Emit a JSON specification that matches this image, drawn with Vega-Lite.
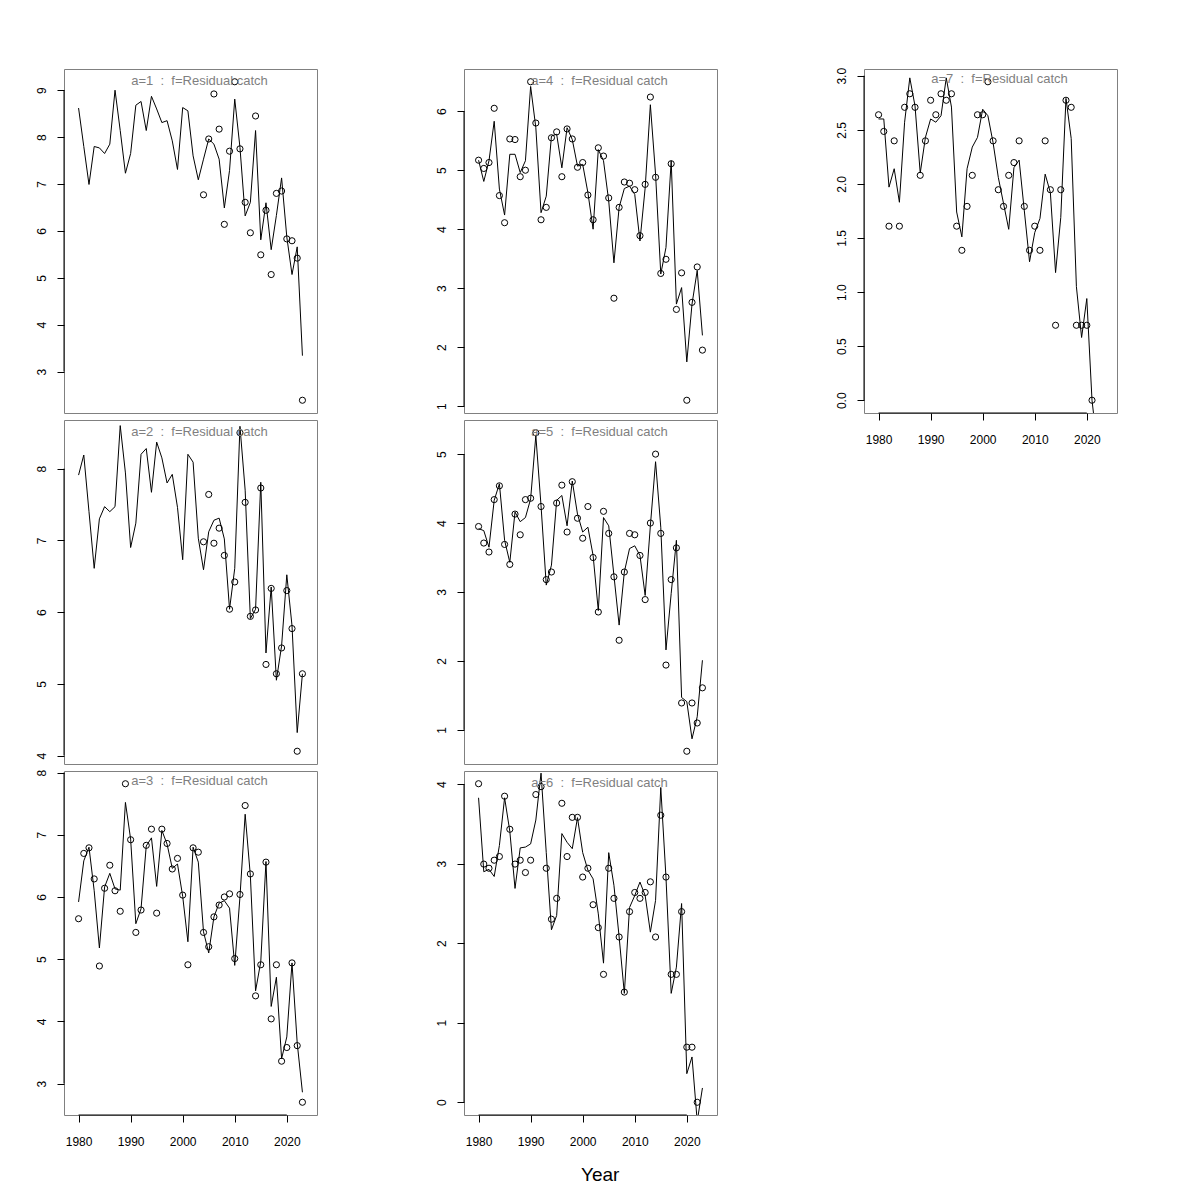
{
"$schema": "https://vega.github.io/schema/vega-lite/v6.json",
"padding": {"left": 34, "top": 66, "right": 10, "bottom": 10},
"datasets": {"d": [
{"a":1,"year":1980,"fit":8.62},{"a":1,"year":1981,"fit":7.80},{"a":1,"year":1982,"fit":6.99},{"a":1,"year":1983,"fit":7.80},{"a":1,"year":1984,"fit":7.77},{"a":1,"year":1985,"fit":7.65},{"a":1,"year":1986,"fit":7.85},{"a":1,"year":1987,"fit":9.00},{"a":1,"year":1988,"fit":8.14},{"a":1,"year":1989,"fit":7.23},
{"a":1,"year":1990,"fit":7.65},{"a":1,"year":1991,"fit":8.68},{"a":1,"year":1992,"fit":8.76},{"a":1,"year":1993,"fit":8.14},{"a":1,"year":1994,"fit":8.87},{"a":1,"year":1995,"fit":8.60},{"a":1,"year":1996,"fit":8.31},{"a":1,"year":1997,"fit":8.35},{"a":1,"year":1998,"fit":7.92},{"a":1,"year":1999,"fit":7.31},
{"a":1,"year":2000,"fit":8.63},{"a":1,"year":2001,"fit":8.56},{"a":1,"year":2002,"fit":7.60},{"a":1,"year":2003,"fit":7.09},{"a":1,"year":2004,"fit":7.53,"obs":6.77},{"a":1,"year":2005,"fit":7.96,"obs":7.96},{"a":1,"year":2006,"fit":7.85,"obs":8.92},{"a":1,"year":2007,"fit":7.53,"obs":8.17},{"a":1,"year":2008,"fit":6.49,"obs":6.14},{"a":1,"year":2009,"fit":7.29,"obs":7.70},
{"a":1,"year":2010,"fit":8.81,"obs":9.18},{"a":1,"year":2011,"fit":7.78,"obs":7.75},{"a":1,"year":2012,"fit":6.32,"obs":6.61},{"a":1,"year":2013,"fit":6.61,"obs":5.96},{"a":1,"year":2014,"fit":8.14,"obs":8.45},{"a":1,"year":2015,"fit":5.81,"obs":5.49},{"a":1,"year":2016,"fit":6.60,"obs":6.44},{"a":1,"year":2017,"fit":5.60,"obs":5.07},{"a":1,"year":2018,"fit":6.33,"obs":6.80},{"a":1,"year":2019,"fit":7.13,"obs":6.85},
{"a":1,"year":2020,"fit":5.87,"obs":5.83},{"a":1,"year":2021,"fit":5.07,"obs":5.79},{"a":1,"year":2022,"fit":5.66,"obs":5.42},{"a":1,"year":2023,"fit":3.34,"obs":2.39},

{"a":2,"year":1980,"fit":7.91},{"a":2,"year":1981,"fit":8.19},{"a":2,"year":1982,"fit":7.40},{"a":2,"year":1983,"fit":6.61},{"a":2,"year":1984,"fit":7.30},{"a":2,"year":1985,"fit":7.47},{"a":2,"year":1986,"fit":7.40},{"a":2,"year":1987,"fit":7.47},{"a":2,"year":1988,"fit":8.60},{"a":2,"year":1989,"fit":7.94},
{"a":2,"year":1990,"fit":6.90},{"a":2,"year":1991,"fit":7.24},{"a":2,"year":1992,"fit":8.20},{"a":2,"year":1993,"fit":8.28},{"a":2,"year":1994,"fit":7.67},{"a":2,"year":1995,"fit":8.37},{"a":2,"year":1996,"fit":8.15},{"a":2,"year":1997,"fit":7.80},{"a":2,"year":1998,"fit":7.92},{"a":2,"year":1999,"fit":7.46},
{"a":2,"year":2000,"fit":6.73},{"a":2,"year":2001,"fit":8.20},{"a":2,"year":2002,"fit":8.09},{"a":2,"year":2003,"fit":7.03},{"a":2,"year":2004,"fit":6.59,"obs":6.98},{"a":2,"year":2005,"fit":7.12,"obs":7.64},{"a":2,"year":2006,"fit":7.28,"obs":6.96},{"a":2,"year":2007,"fit":7.31,"obs":7.17},{"a":2,"year":2008,"fit":7.02,"obs":6.79},{"a":2,"year":2009,"fit":6.04,"obs":6.04},
{"a":2,"year":2010,"fit":6.61,"obs":6.42},{"a":2,"year":2011,"fit":8.59,"obs":8.50},{"a":2,"year":2012,"fit":7.70,"obs":7.53},{"a":2,"year":2013,"fit":5.91,"obs":5.94},{"a":2,"year":2014,"fit":6.04,"obs":6.03},{"a":2,"year":2015,"fit":7.81,"obs":7.73},{"a":2,"year":2016,"fit":5.43,"obs":5.27},{"a":2,"year":2017,"fit":6.35,"obs":6.33},{"a":2,"year":2018,"fit":5.05,"obs":5.14},{"a":2,"year":2019,"fit":5.53,"obs":5.50},
{"a":2,"year":2020,"fit":6.52,"obs":6.30},{"a":2,"year":2021,"fit":5.81,"obs":5.77},{"a":2,"year":2022,"fit":4.32,"obs":4.06},{"a":2,"year":2023,"fit":5.14,"obs":5.14},

{"a":3,"year":1980,"fit":5.92,"obs":5.65},{"a":3,"year":1981,"fit":6.58,"obs":6.70},{"a":3,"year":1982,"fit":6.80,"obs":6.79},{"a":3,"year":1983,"fit":6.10,"obs":6.29},{"a":3,"year":1984,"fit":5.18,"obs":4.89},{"a":3,"year":1985,"fit":6.16,"obs":6.14},{"a":3,"year":1986,"fit":6.38,"obs":6.51},{"a":3,"year":1987,"fit":6.13,"obs":6.10},{"a":3,"year":1988,"fit":6.11,"obs":5.77},{"a":3,"year":1989,"fit":7.52,"obs":7.82},
{"a":3,"year":1990,"fit":6.93,"obs":6.92},{"a":3,"year":1991,"fit":5.57,"obs":5.43},{"a":3,"year":1992,"fit":5.81,"obs":5.79},{"a":3,"year":1993,"fit":6.82,"obs":6.83},{"a":3,"year":1994,"fit":6.95,"obs":7.09},{"a":3,"year":1995,"fit":6.17,"obs":5.74},{"a":3,"year":1996,"fit":7.07,"obs":7.09},{"a":3,"year":1997,"fit":6.85,"obs":6.86},{"a":3,"year":1998,"fit":6.46,"obs":6.45},{"a":3,"year":1999,"fit":6.53,"obs":6.62},
{"a":3,"year":2000,"fit":6.01,"obs":6.03},{"a":3,"year":2001,"fit":5.28,"obs":4.91},{"a":3,"year":2002,"fit":6.80,"obs":6.79},{"a":3,"year":2003,"fit":6.56,"obs":6.72},{"a":3,"year":2004,"fit":5.44,"obs":5.43},{"a":3,"year":2005,"fit":5.10,"obs":5.20},{"a":3,"year":2006,"fit":5.68,"obs":5.68},{"a":3,"year":2007,"fit":5.90,"obs":5.87},{"a":3,"year":2008,"fit":5.94,"obs":6.00},{"a":3,"year":2009,"fit":5.82,"obs":6.05},
{"a":3,"year":2010,"fit":4.90,"obs":5.01},{"a":3,"year":2011,"fit":6.00,"obs":6.04},{"a":3,"year":2012,"fit":7.33,"obs":7.47},{"a":3,"year":2013,"fit":6.34,"obs":6.37},{"a":3,"year":2014,"fit":4.49,"obs":4.41},{"a":3,"year":2015,"fit":4.96,"obs":4.91},{"a":3,"year":2016,"fit":6.57,"obs":6.56},{"a":3,"year":2017,"fit":4.24,"obs":4.04},{"a":3,"year":2018,"fit":4.71,"obs":4.91},{"a":3,"year":2019,"fit":3.40,"obs":3.36},
{"a":3,"year":2020,"fit":3.75,"obs":3.58},{"a":3,"year":2021,"fit":4.94,"obs":4.94},{"a":3,"year":2022,"fit":3.65,"obs":3.61},{"a":3,"year":2023,"fit":2.86,"obs":2.70},

{"a":4,"year":1980,"fit":5.17,"obs":5.17},{"a":4,"year":1981,"fit":4.81,"obs":5.03},{"a":4,"year":1982,"fit":5.16,"obs":5.13},{"a":4,"year":1983,"fit":5.83,"obs":6.05},{"a":4,"year":1984,"fit":4.68,"obs":4.57},{"a":4,"year":1985,"fit":4.24,"obs":4.11},{"a":4,"year":1986,"fit":5.27,"obs":5.53},{"a":4,"year":1987,"fit":5.27,"obs":5.52},{"a":4,"year":1988,"fit":4.96,"obs":4.89},{"a":4,"year":1989,"fit":5.16,"obs":5.00},
{"a":4,"year":1990,"fit":6.42,"obs":6.50},{"a":4,"year":1991,"fit":5.72,"obs":5.80},{"a":4,"year":1992,"fit":4.28,"obs":4.16},{"a":4,"year":1993,"fit":4.56,"obs":4.37},{"a":4,"year":1994,"fit":5.58,"obs":5.55},{"a":4,"year":1995,"fit":5.61,"obs":5.65},{"a":4,"year":1996,"fit":5.04,"obs":4.89},{"a":4,"year":1997,"fit":5.72,"obs":5.70},{"a":4,"year":1998,"fit":5.52,"obs":5.53},{"a":4,"year":1999,"fit":5.07,"obs":5.05},
{"a":4,"year":2000,"fit":5.10,"obs":5.13},{"a":4,"year":2001,"fit":4.62,"obs":4.58},{"a":4,"year":2002,"fit":4.00,"obs":4.16},{"a":4,"year":2003,"fit":5.35,"obs":5.38},{"a":4,"year":2004,"fit":5.16,"obs":5.24},{"a":4,"year":2005,"fit":4.48,"obs":4.53},{"a":4,"year":2006,"fit":3.43,"obs":2.83},{"a":4,"year":2007,"fit":4.37,"obs":4.37},{"a":4,"year":2008,"fit":4.69,"obs":4.80},{"a":4,"year":2009,"fit":4.73,"obs":4.78},
{"a":4,"year":2010,"fit":4.59,"obs":4.67},{"a":4,"year":2011,"fit":3.80,"obs":3.89},{"a":4,"year":2012,"fit":4.70,"obs":4.76},{"a":4,"year":2013,"fit":6.11,"obs":6.24},{"a":4,"year":2014,"fit":4.93,"obs":4.88},{"a":4,"year":2015,"fit":3.24,"obs":3.25},{"a":4,"year":2016,"fit":3.69,"obs":3.49},{"a":4,"year":2017,"fit":5.16,"obs":5.11},{"a":4,"year":2018,"fit":2.73,"obs":2.64},{"a":4,"year":2019,"fit":3.01,"obs":3.26},
{"a":4,"year":2020,"fit":1.75,"obs":1.10},{"a":4,"year":2021,"fit":2.73,"obs":2.76},{"a":4,"year":2022,"fit":3.30,"obs":3.36},{"a":4,"year":2023,"fit":2.20,"obs":1.95},

{"a":5,"year":1980,"fit":3.92,"obs":3.95},{"a":5,"year":1981,"fit":3.89,"obs":3.71},{"a":5,"year":1982,"fit":3.65,"obs":3.58},{"a":5,"year":1983,"fit":4.33,"obs":4.34},{"a":5,"year":1984,"fit":4.57,"obs":4.54},{"a":5,"year":1985,"fit":3.75,"obs":3.69},{"a":5,"year":1986,"fit":3.43,"obs":3.40},{"a":5,"year":1987,"fit":4.16,"obs":4.13},{"a":5,"year":1988,"fit":4.02,"obs":3.83},{"a":5,"year":1989,"fit":4.08,"obs":4.34},
{"a":5,"year":1990,"fit":4.35,"obs":4.36},{"a":5,"year":1991,"fit":5.27,"obs":5.31},{"a":5,"year":1992,"fit":4.25,"obs":4.24},{"a":5,"year":1993,"fit":3.10,"obs":3.18},{"a":5,"year":1994,"fit":3.39,"obs":3.29},{"a":5,"year":1995,"fit":4.33,"obs":4.29},{"a":5,"year":1996,"fit":4.40,"obs":4.55},{"a":5,"year":1997,"fit":3.96,"obs":3.87},{"a":5,"year":1998,"fit":4.61,"obs":4.60},{"a":5,"year":1999,"fit":4.13,"obs":4.07},
{"a":5,"year":2000,"fit":3.87,"obs":3.78},{"a":5,"year":2001,"fit":3.94,"obs":4.24},{"a":5,"year":2002,"fit":3.53,"obs":3.50},{"a":5,"year":2003,"fit":2.73,"obs":2.71},{"a":5,"year":2004,"fit":4.08,"obs":4.17},{"a":5,"year":2005,"fit":3.96,"obs":3.85},{"a":5,"year":2006,"fit":3.24,"obs":3.22},{"a":5,"year":2007,"fit":2.52,"obs":2.30},{"a":5,"year":2008,"fit":3.29,"obs":3.29},{"a":5,"year":2009,"fit":3.63,"obs":3.85},
{"a":5,"year":2010,"fit":3.67,"obs":3.83},{"a":5,"year":2011,"fit":3.53,"obs":3.53},{"a":5,"year":2012,"fit":2.95,"obs":2.89},{"a":5,"year":2013,"fit":3.96,"obs":4.00},{"a":5,"year":2014,"fit":4.89,"obs":5.00},{"a":5,"year":2015,"fit":3.94,"obs":3.85},{"a":5,"year":2016,"fit":2.16,"obs":1.94},{"a":5,"year":2017,"fit":2.98,"obs":3.18},{"a":5,"year":2018,"fit":3.75,"obs":3.64},{"a":5,"year":2019,"fit":1.47,"obs":1.39},
{"a":5,"year":2020,"fit":1.41,"obs":0.69},{"a":5,"year":2021,"fit":0.87,"obs":1.39},{"a":5,"year":2022,"fit":1.19,"obs":1.10},{"a":5,"year":2023,"fit":2.01,"obs":1.61},

{"a":6,"year":1980,"fit":3.83,"obs":4.007},{"a":6,"year":1981,"fit":2.90,"obs":2.996},{"a":6,"year":1982,"fit":2.93,"obs":2.944},{"a":6,"year":1983,"fit":2.84,"obs":3.045},{"a":6,"year":1984,"fit":3.23,"obs":3.091},{"a":6,"year":1985,"fit":3.83,"obs":3.850},{"a":6,"year":1986,"fit":3.41,"obs":3.434},{"a":6,"year":1987,"fit":2.69,"obs":2.996},{"a":6,"year":1988,"fit":3.20,"obs":3.045},{"a":6,"year":1989,"fit":3.21,"obs":2.890},
{"a":6,"year":1990,"fit":3.25,"obs":3.045},{"a":6,"year":1991,"fit":3.55,"obs":3.871},{"a":6,"year":1992,"fit":4.14,"obs":3.970},{"a":6,"year":1993,"fit":3.14,"obs":2.944},{"a":6,"year":1994,"fit":2.17,"obs":2.303},{"a":6,"year":1995,"fit":2.35,"obs":2.565},{"a":6,"year":1996,"fit":3.38,"obs":3.761},{"a":6,"year":1997,"fit":3.27,"obs":3.091},{"a":6,"year":1998,"fit":3.19,"obs":3.584},{"a":6,"year":1999,"fit":3.58,"obs":3.584},
{"a":6,"year":2000,"fit":3.14,"obs":2.833},{"a":6,"year":2001,"fit":2.92,"obs":2.944},{"a":6,"year":2002,"fit":2.81,"obs":2.485},{"a":6,"year":2003,"fit":2.37,"obs":2.197},{"a":6,"year":2004,"fit":1.75,"obs":1.609},{"a":6,"year":2005,"fit":3.14,"obs":2.944},{"a":6,"year":2006,"fit":2.73,"obs":2.565},{"a":6,"year":2007,"fit":2.08,"obs":2.079},{"a":6,"year":2008,"fit":1.37,"obs":1.386},{"a":6,"year":2009,"fit":2.45,"obs":2.398},
{"a":6,"year":2010,"fit":2.60,"obs":2.639},{"a":6,"year":2011,"fit":2.77,"obs":2.565},{"a":6,"year":2012,"fit":2.60,"obs":2.639},{"a":6,"year":2013,"fit":2.14,"obs":2.773},{"a":6,"year":2014,"fit":2.54,"obs":2.079},{"a":6,"year":2015,"fit":3.96,"obs":3.611},{"a":6,"year":2016,"fit":2.83,"obs":2.833},{"a":6,"year":2017,"fit":1.37,"obs":1.609},{"a":6,"year":2018,"fit":1.70,"obs":1.609},{"a":6,"year":2019,"fit":2.50,"obs":2.398},
{"a":6,"year":2020,"fit":0.36,"obs":0.693},{"a":6,"year":2021,"fit":0.57,"obs":0.693},{"a":6,"year":2022,"fit":-0.24,"obs":0},{"a":6,"year":2023,"fit":0.18},

{"a":7,"year":1980,"fit":2.60,"obs":2.639},{"a":7,"year":1981,"fit":2.60,"obs":2.485},{"a":7,"year":1982,"fit":1.97,"obs":1.609},{"a":7,"year":1983,"fit":2.14,"obs":2.398},{"a":7,"year":1984,"fit":1.83,"obs":1.609},{"a":7,"year":1985,"fit":2.57,"obs":2.708},{"a":7,"year":1986,"fit":2.98,"obs":2.833},{"a":7,"year":1987,"fit":2.72,"obs":2.708},{"a":7,"year":1988,"fit":2.10,"obs":2.079},{"a":7,"year":1989,"fit":2.43,"obs":2.398},
{"a":7,"year":1990,"fit":2.60,"obs":2.773},{"a":7,"year":1991,"fit":2.57,"obs":2.639},{"a":7,"year":1992,"fit":2.63,"obs":2.833},{"a":7,"year":1993,"fit":2.98,"obs":2.773},{"a":7,"year":1994,"fit":2.71,"obs":2.833},{"a":7,"year":1995,"fit":1.74,"obs":1.609},{"a":7,"year":1996,"fit":1.51,"obs":1.386},{"a":7,"year":1997,"fit":2.14,"obs":1.792},{"a":7,"year":1998,"fit":2.34,"obs":2.079},{"a":7,"year":1999,"fit":2.43,"obs":2.639},
{"a":7,"year":2000,"fit":2.69,"obs":2.639},{"a":7,"year":2001,"fit":2.63,"obs":2.944},{"a":7,"year":2002,"fit":2.38,"obs":2.398},{"a":7,"year":2003,"fit":2.06,"obs":1.946},{"a":7,"year":2004,"fit":1.82,"obs":1.792},{"a":7,"year":2005,"fit":1.58,"obs":2.079},{"a":7,"year":2006,"fit":2.15,"obs":2.197},{"a":7,"year":2007,"fit":2.22,"obs":2.398},{"a":7,"year":2008,"fit":1.75,"obs":1.792},{"a":7,"year":2009,"fit":1.28,"obs":1.386},
{"a":7,"year":2010,"fit":1.55,"obs":1.609},{"a":7,"year":2011,"fit":1.68,"obs":1.386},{"a":7,"year":2012,"fit":2.09,"obs":2.398},{"a":7,"year":2013,"fit":1.92,"obs":1.946},{"a":7,"year":2014,"fit":1.18,"obs":0.693},{"a":7,"year":2015,"fit":1.69,"obs":1.946},{"a":7,"year":2016,"fit":2.79,"obs":2.773},{"a":7,"year":2017,"fit":2.42,"obs":2.708},{"a":7,"year":2018,"fit":1.05,"obs":0.693},{"a":7,"year":2019,"fit":0.58,"obs":0.693},
{"a":7,"year":2020,"fit":0.94,"obs":0.693},{"a":7,"year":2021,"fit":0.00,"obs":0},{"a":7,"year":2022,"fit":-0.42}
]},
"data": {"name": "d"},
"columns": 3,
"spacing": {"row": 7, "column": 147},
"bounds": "flush",
"concat": [
{"width":253,"height":344,"title":{"text":"a=1\u00a0\u00a0:\u00a0\u00a0f=Residual catch"},"transform":[{"filter":"datum.a==1"}],
 "layer":[
  {"transform":[{"filter":"isValid(datum.fit)"}],"mark":{"type":"line","color":"black","strokeWidth":1,"clip":true},
   "encoding":{"x":{"field":"year","type":"quantitative","scale":{"domain":[1977.2,2025.8],"nice":false,"zero":false},"axis":null},
   "y":{"field":"fit","type":"quantitative","scale":{"domain":[2.118,9.452],"nice":false,"zero":false},"axis":{"values":[3,4,5,6,7,8,9],"format":"d","title":null}}}},
  {"transform":[{"filter":"isValid(datum.obs)"}],"mark":{"type":"point","shape":"circle","filled":false,"color":"black","size":38,"strokeWidth":1,"opacity":1},
   "encoding":{"x":{"field":"year","type":"quantitative","axis":null},"y":{"field":"obs","type":"quantitative"}}},
  {"data":{"values":[{}]},"mark":{"type":"rule","color":"black","strokeWidth":1},
   "encoding":{"x":{"datum":1977.2,"type":"quantitative","axis":null},"y":{"datum":3,"type":"quantitative"},"y2":{"datum":9}}}
 ]},
{"width":253,"height":344,"title":{"text":"a=4\u00a0\u00a0:\u00a0\u00a0f=Residual catch"},"transform":[{"filter":"datum.a==4"}],
 "layer":[
  {"transform":[{"filter":"isValid(datum.fit)"}],"mark":{"type":"line","color":"black","strokeWidth":1,"clip":true},
   "encoding":{"x":{"field":"year","type":"quantitative","scale":{"domain":[1977.2,2025.8],"nice":false,"zero":false},"axis":null},
   "y":{"field":"fit","type":"quantitative","scale":{"domain":[0.884,6.716],"nice":false,"zero":false},"axis":{"values":[1,2,3,4,5,6],"format":"d","title":null}}}},
  {"transform":[{"filter":"isValid(datum.obs)"}],"mark":{"type":"point","shape":"circle","filled":false,"color":"black","size":38,"strokeWidth":1,"opacity":1},
   "encoding":{"x":{"field":"year","type":"quantitative","axis":null},"y":{"field":"obs","type":"quantitative"}}},
  {"data":{"values":[{}]},"mark":{"type":"rule","color":"black","strokeWidth":1},
   "encoding":{"x":{"datum":1977.2,"type":"quantitative","axis":null},"y":{"datum":1,"type":"quantitative"},"y2":{"datum":6}}}
 ]},
{"width":253,"height":344,"title":{"text":"a=7\u00a0\u00a0:\u00a0\u00a0f=Residual catch"},"transform":[{"filter":"datum.a==7"}],
 "layer":[
  {"transform":[{"filter":"isValid(datum.fit)"}],"mark":{"type":"line","color":"black","strokeWidth":1,"clip":true},
   "encoding":{"x":{"field":"year","type":"quantitative","scale":{"domain":[1977.2,2025.8],"nice":false,"zero":false},"axis":{"values":[1980,1990,2000,2010,2020],"format":"d","title":null}},
   "y":{"field":"fit","type":"quantitative","scale":{"domain":[-0.118,3.062],"nice":false,"zero":false},"axis":{"values":[0,0.5,1,1.5,2,2.5,3],"format":".1f","title":null}}}},
  {"transform":[{"filter":"isValid(datum.obs)"}],"mark":{"type":"point","shape":"circle","filled":false,"color":"black","size":38,"strokeWidth":1,"opacity":1},
   "encoding":{"x":{"field":"year","type":"quantitative"},"y":{"field":"obs","type":"quantitative"}}},
  {"data":{"values":[{}]},"mark":{"type":"rule","color":"black","strokeWidth":1},
   "encoding":{"x":{"datum":1977.2,"type":"quantitative"},"y":{"datum":0,"type":"quantitative"},"y2":{"datum":3}}},
  {"data":{"values":[{}]},"mark":{"type":"rule","color":"black","strokeWidth":1},
   "encoding":{"x":{"datum":1980,"type":"quantitative"},"x2":{"datum":2020},"y":{"datum":-0.118,"type":"quantitative"}}}
 ]},
{"width":253,"height":344,"title":{"text":"a=2\u00a0\u00a0:\u00a0\u00a0f=Residual catch"},"transform":[{"filter":"datum.a==2"}],
 "layer":[
  {"transform":[{"filter":"isValid(datum.fit)"}],"mark":{"type":"line","color":"black","strokeWidth":1,"clip":true},
   "encoding":{"x":{"field":"year","type":"quantitative","scale":{"domain":[1977.2,2025.8],"nice":false,"zero":false},"axis":null},
   "y":{"field":"fit","type":"quantitative","scale":{"domain":[3.882,8.678],"nice":false,"zero":false},"axis":{"values":[4,5,6,7,8],"format":"d","title":null}}}},
  {"transform":[{"filter":"isValid(datum.obs)"}],"mark":{"type":"point","shape":"circle","filled":false,"color":"black","size":38,"strokeWidth":1,"opacity":1},
   "encoding":{"x":{"field":"year","type":"quantitative","axis":null},"y":{"field":"obs","type":"quantitative"}}},
  {"data":{"values":[{}]},"mark":{"type":"rule","color":"black","strokeWidth":1},
   "encoding":{"x":{"datum":1977.2,"type":"quantitative","axis":null},"y":{"datum":4,"type":"quantitative"},"y2":{"datum":8}}}
 ]},
{"width":253,"height":344,"title":{"text":"a=5\u00a0\u00a0:\u00a0\u00a0f=Residual catch"},"transform":[{"filter":"datum.a==5"}],
 "layer":[
  {"transform":[{"filter":"isValid(datum.fit)"}],"mark":{"type":"line","color":"black","strokeWidth":1,"clip":true},
   "encoding":{"x":{"field":"year","type":"quantitative","scale":{"domain":[1977.2,2025.8],"nice":false,"zero":false},"axis":null},
   "y":{"field":"fit","type":"quantitative","scale":{"domain":[0.505,5.495],"nice":false,"zero":false},"axis":{"values":[1,2,3,4,5],"format":"d","title":null}}}},
  {"transform":[{"filter":"isValid(datum.obs)"}],"mark":{"type":"point","shape":"circle","filled":false,"color":"black","size":38,"strokeWidth":1,"opacity":1},
   "encoding":{"x":{"field":"year","type":"quantitative","axis":null},"y":{"field":"obs","type":"quantitative"}}},
  {"data":{"values":[{}]},"mark":{"type":"rule","color":"black","strokeWidth":1},
   "encoding":{"x":{"datum":1977.2,"type":"quantitative","axis":null},"y":{"datum":1,"type":"quantitative"},"y2":{"datum":5}}}
 ]},
{"width":253,"height":344,"view":{"stroke":null},"transform":[{"filter":"datum.a==0"}],"mark":{"type":"point","opacity":0},
 "encoding":{"x":{"field":"year","type":"quantitative","axis":null},"y":{"field":"fit","type":"quantitative","axis":null}}},
{"width":253,"height":344,"title":{"text":"a=3\u00a0\u00a0:\u00a0\u00a0f=Residual catch"},"transform":[{"filter":"datum.a==3"}],
 "layer":[
  {"transform":[{"filter":"isValid(datum.fit)"}],"mark":{"type":"line","color":"black","strokeWidth":1,"clip":true},
   "encoding":{"x":{"field":"year","type":"quantitative","scale":{"domain":[1977.2,2025.8],"nice":false,"zero":false},"axis":{"values":[1980,1990,2000,2010,2020],"format":"d","title":null}},
   "y":{"field":"fit","type":"quantitative","scale":{"domain":[2.495,8.025],"nice":false,"zero":false},"axis":{"values":[3,4,5,6,7,8],"format":"d","title":null}}}},
  {"transform":[{"filter":"isValid(datum.obs)"}],"mark":{"type":"point","shape":"circle","filled":false,"color":"black","size":38,"strokeWidth":1,"opacity":1},
   "encoding":{"x":{"field":"year","type":"quantitative"},"y":{"field":"obs","type":"quantitative"}}},
  {"data":{"values":[{}]},"mark":{"type":"rule","color":"black","strokeWidth":1},
   "encoding":{"x":{"datum":1977.2,"type":"quantitative"},"y":{"datum":3,"type":"quantitative"},"y2":{"datum":8}}},
  {"data":{"values":[{}]},"mark":{"type":"rule","color":"black","strokeWidth":1},
   "encoding":{"x":{"datum":1980,"type":"quantitative"},"x2":{"datum":2020},"y":{"datum":2.495,"type":"quantitative"}}}
 ]},
{"width":253,"height":344,"title":{"text":"a=6\u00a0\u00a0:\u00a0\u00a0f=Residual catch"},"transform":[{"filter":"datum.a==6"}],
 "layer":[
  {"transform":[{"filter":"isValid(datum.fit)"}],"mark":{"type":"line","color":"black","strokeWidth":1,"clip":true},
   "encoding":{"x":{"field":"year","type":"quantitative","scale":{"domain":[1977.2,2025.8],"nice":false,"zero":false},"axis":{"values":[1980,1990,2000,2010,2020],"format":"d","title":"Year","titleFontSize":19,"titleFontWeight":"normal","titleColor":"black","titleX":135.7,"titleY":65,"titleAlign":"center","titleBaseline":"alphabetic"}},
   "y":{"field":"fit","type":"quantitative","scale":{"domain":[-0.16,4.167],"nice":false,"zero":false},"axis":{"values":[0,1,2,3,4],"format":"d","title":null}}}},
  {"transform":[{"filter":"isValid(datum.obs)"}],"mark":{"type":"point","shape":"circle","filled":false,"color":"black","size":38,"strokeWidth":1,"opacity":1},
   "encoding":{"x":{"field":"year","type":"quantitative"},"y":{"field":"obs","type":"quantitative"}}},
  {"data":{"values":[{}]},"mark":{"type":"rule","color":"black","strokeWidth":1},
   "encoding":{"x":{"datum":1977.2,"type":"quantitative"},"y":{"datum":0,"type":"quantitative"},"y2":{"datum":4}}},
  {"data":{"values":[{}]},"mark":{"type":"rule","color":"black","strokeWidth":1},
   "encoding":{"x":{"datum":1980,"type":"quantitative"},"x2":{"datum":2020},"y":{"datum":-0.16,"type":"quantitative"}}}
 ]}
],
"config": {
 "view": {"stroke": "#808080", "strokeWidth": 1},
 "font": "Liberation Sans",
 "axis": {"labelFont": "Liberation Sans", "labelFontSize": 12, "labelColor": "black", "tickColor": "black", "tickSize": 7, "tickWidth": 1, "domain": false, "grid": false, "labelFlush": false, "labelOverlap": false, "titleFont": "Liberation Sans"},
 "axisY": {"labelAngle": 270, "labelAlign": "center", "labelBaseline": "alphabetic", "labelPadding": 12},
 "axisX": {"labelAlign": "center", "labelBaseline": "alphabetic", "labelPadding": 23.7},
 "title": {"font": "Liberation Sans", "fontSize": 13, "fontWeight": "normal", "color": "#7f7f7f", "anchor": "middle", "frame": "group", "baseline": "alphabetic", "offset": -19, "dx": 9}
}
}
